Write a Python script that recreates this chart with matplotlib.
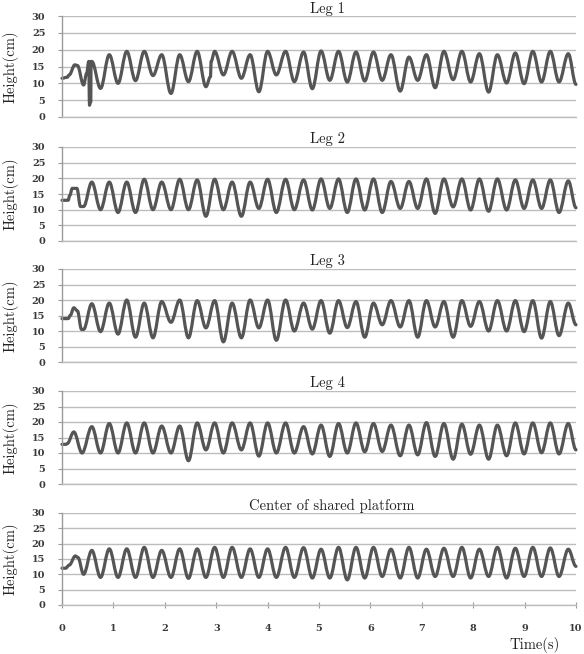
import numpy as np
import matplotlib
matplotlib.use("Agg")
import matplotlib.pyplot as plt
from matplotlib.path import Path
from matplotlib.patches import PathPatch

# ---------------- data ----------------
titles = ["Leg 1", "Leg 2", "Leg 3", "Leg 4", "Center of shared platform"]
y_ticks = [0, 5, 10, 15, 20, 25, 30]
x_ticks = [0, 1, 2, 3, 4, 5, 6, 7, 8, 9, 10]

# times of the oscillation peaks and troughs (s)
peak_t = [0.58, 0.92, 1.26, 1.60, 1.94, 2.29, 2.63, 2.97, 3.31, 3.66, 4.00, 4.35,
          4.70, 5.04, 5.38, 5.72, 6.06, 6.40, 6.75, 7.09, 7.43, 7.78, 8.12, 8.47,
          8.82, 9.16, 9.50, 9.85]
trough_t = [0.75, 1.09, 1.43, 1.77, 2.12, 2.46, 2.80, 3.14, 3.49, 3.83, 4.17, 4.52,
            4.87, 5.21, 5.55, 5.89, 6.23, 6.58, 6.92, 7.26, 7.61, 7.95, 8.30, 8.65,
            8.99, 9.33, 9.67]
end_t = 10.0

# Leg 1
leg1_head_t = [0.00, 0.10, 0.14, 0.25, 0.30, 0.42, 0.48, 0.52, 0.535, 0.55, 0.56, 0.565]
leg1_head_y = [11.5, 11.8, 12.5, 15.5, 15.3, 9.5, 13.0, 16.5, 3.5, 4.5, 4.5, 16.5]
leg1_peaks = [16.5, 18.5, 19.5, 19.5, 18.5, 18.5, 19.5, 19.5, 19.5, 18.5, 19.5, 19.5,
              19.3, 19.6, 19.5, 19.3, 19.3, 18.5, 17.8, 18.5, 19.5, 19.5, 18.8, 18.5,
              19.0, 19.5, 19.5, 18.8]
leg1_troughs = [8.5, 10.0, 10.8, 12.3, 7.0, 10.5, 9.0, 12.5, 11.5, 7.5, 12.5, 10.5,
                8.4, 10.9, 10.4, 10.7, 10.9, 7.7, 10.9, 8.7, 11.1, 10.4, 7.4, 10.1,
                9.9, 10.4, 10.4]
leg1_end = 9.7
leg1_extra_t = [2.89, 2.90]
leg1_extra_y = [12.0, 16.5]

# Leg 2
leg2_head_t = [0.00, 0.12, 0.15, 0.20, 0.29, 0.36, 0.42]
leg2_head_y = [13.0, 13.0, 14.5, 16.8, 16.8, 11.0, 11.0]
leg2_peaks = [18.8, 18.8, 18.8, 19.7, 18.8, 19.7, 19.5, 19.7, 18.8, 18.8, 19.7, 19.7,
              19.5, 19.8, 19.8, 19.8, 19.8, 19.0, 19.0, 19.8, 19.8, 19.8, 19.8, 19.8,
              19.5, 19.5, 19.5, 19.2]
leg2_troughs = [10.0, 9.1, 9.1, 10.0, 10.0, 10.0, 7.9, 10.0, 7.9, 10.4, 9.1, 10.0,
                9.9, 10.4, 9.1, 9.9, 9.1, 10.4, 10.4, 8.8, 10.9, 9.9, 9.5, 9.9,
                10.4, 10.4, 9.1]
leg2_end = 10.6

# Leg 3
leg3_head_t = [0.00, 0.12, 0.16, 0.23, 0.30, 0.38, 0.42]
leg3_head_y = [14.0, 14.0, 15.0, 17.5, 16.5, 10.5, 10.5]
leg3_peaks = [18.8, 19.0, 20.0, 19.0, 19.5, 20.0, 19.8, 19.8, 19.0, 20.0, 20.0, 20.0,
              19.0, 19.8, 19.8, 19.5, 19.0, 19.8, 19.8, 19.8, 19.5, 19.8, 19.5, 19.8,
              19.8, 19.8, 19.5, 19.0]
leg3_troughs = [9.8, 9.0, 8.0, 7.8, 12.8, 7.8, 11.0, 6.5, 7.8, 11.0, 7.0, 10.0,
                10.6, 9.3, 11.1, 8.0, 12.0, 11.3, 8.0, 11.3, 8.0, 11.5, 10.0, 10.0,
                9.8, 7.7, 8.5]
leg3_end = 12.0

# Leg 4
leg4_head_t = [0.00, 0.08, 0.10, 0.23, 0.39]
leg4_head_y = [12.8, 12.8, 13.0, 16.8, 10.0]
leg4_peaks = [18.5, 19.5, 19.7, 19.7, 18.7, 18.7, 19.7, 19.7, 19.7, 19.7, 19.7, 19.7,
              18.5, 19.0, 19.5, 19.7, 19.5, 19.0, 19.0, 19.8, 19.5, 19.3, 19.0, 19.0,
              19.7, 19.7, 19.7, 19.5]
leg4_troughs = [10.0, 10.0, 10.0, 10.0, 10.0, 7.5, 11.0, 10.0, 11.0, 9.0, 10.0, 10.0,
                9.7, 8.9, 10.0, 10.4, 10.5, 9.1, 9.4, 8.9, 8.0, 9.6, 8.0, 9.1,
                9.7, 10.1, 9.7]
leg4_end = 11.0

# Center of shared platform
ctr_head_t = [0.00, 0.07, 0.14, 0.26, 0.31, 0.42]
ctr_head_y = [12.0, 12.0, 13.0, 16.0, 15.5, 10.0]
ctr_peaks = [17.8, 18.3, 18.3, 18.8, 17.8, 18.3, 18.3, 18.8, 18.8, 18.3, 18.3, 18.8,
             18.7, 18.2, 18.8, 18.8, 18.8, 18.2, 18.8, 18.2, 18.5, 18.8, 18.2, 18.8,
             18.5, 18.8, 18.6, 18.2]
ctr_troughs = [9.0, 9.0, 9.0, 9.0, 9.0, 8.7, 9.0, 9.0, 9.0, 9.0, 9.0, 9.0,
               8.8, 8.8, 8.2, 8.8, 9.3, 8.8, 8.8, 9.3, 9.3, 8.8, 9.3, 8.8,
               9.3, 9.3, 9.3]
ctr_end = 12.6


def build(head_t, head_y, peaks, troughs, end_y, extra_t=(), extra_y=()):
    t = list(head_t) + list(peak_t) + list(trough_t) + [end_t] + list(extra_t)
    y = list(head_y) + list(peaks) + list(troughs) + [end_y] + list(extra_y)
    order = np.argsort(t, kind="stable")
    return np.asarray(t)[order], np.asarray(y)[order]


def smooth_path(t, y):
    # cubic Bezier segments between the read points, flat tangents at each point
    verts = [(t[0], y[0])]
    codes = [Path.MOVETO]
    for i in range(1, len(t)):
        d = (t[i] - t[i - 1]) * 0.36
        verts += [(t[i - 1] + d, y[i - 1]), (t[i] - d, y[i]), (t[i], y[i])]
        codes += [Path.CURVE4] * 3
    return Path(verts, codes)


series = [
    build(leg1_head_t, leg1_head_y, leg1_peaks, leg1_troughs, leg1_end, leg1_extra_t, leg1_extra_y),
    build(leg2_head_t, leg2_head_y, leg2_peaks, leg2_troughs, leg2_end),
    build(leg3_head_t, leg3_head_y, leg3_peaks, leg3_troughs, leg3_end),
    build(leg4_head_t, leg4_head_y, leg4_peaks, leg4_troughs, leg4_end),
    build(ctr_head_t, ctr_head_y, ctr_peaks, ctr_troughs, ctr_end),
]

# ---------------- layout ----------------
W, H = 584, 654
fig = plt.figure(figsize=(W / 100, H / 100), dpi=100)
fig.patch.set_facecolor("white")

panel_px = [(16, 117), (147, 241), (269, 362), (391, 484), (513, 605)]
left_px, right_px = 62, 576
title_x = [0.517, 0.517, 0.517, 0.517, 0.525]

line_col = "#555555"
grid_col = "#bdbdbd"
axis_col = "#9a9a9a"
tick_font = "DejaVu Serif"
text_font = ["cmr10", "DejaVu Serif"]

for i, ((top, bot), (t, y)) in enumerate(zip(panel_px, series)):
    ax = fig.add_axes([left_px / W, 1 - bot / H, (right_px - left_px) / W, (bot - top) / H])
    ax.set_xlim(0, 10)
    ax.set_ylim(0, 30)
    ax.set_yticks(y_ticks)
    ax.set_xticks(x_ticks)
    ax.grid(axis="y", color=grid_col, linewidth=1.0)
    ax.set_axisbelow(True)
    for s in ("top", "right"):
        ax.spines[s].set_visible(False)
    ax.spines["left"].set_color(axis_col)
    ax.spines["bottom"].set_color(grid_col)
    ax.spines["left"].set_linewidth(1.0)
    ax.spines["bottom"].set_linewidth(1.0)
    ax.tick_params(axis="y", direction="out", length=3, width=0.8, color=axis_col,
                   labelsize=7, pad=9)
    for lab in ax.get_yticklabels():
        lab.set_fontfamily(tick_font)
        lab.set_fontweight("bold")
        lab.set_color("#3a3a3a")
    if i < 4:
        ax.tick_params(axis="x", length=0, labelbottom=False)
    else:
        ax.tick_params(axis="x", direction="inout", length=5, width=0.8, color=axis_col,
                       labelsize=7, pad=11)
        for lab in ax.get_xticklabels():
            lab.set_fontfamily(tick_font)
            lab.set_fontweight("bold")
            lab.set_color("#3a3a3a")
        ax.text(0.92, -0.44, "Time(s)", transform=ax.transAxes, ha="center", va="center",
                fontsize=10.5, family=text_font, color="#222222")

    ax.add_patch(PathPatch(smooth_path(t, y), facecolor="none", edgecolor=line_col,
                           linewidth=2.3, joinstyle="round", capstyle="round",
                           transform=ax.transData, clip_on=False))

    ax.text(title_x[i], 1.0 + 7.5 / (bot - top), titles[i], transform=ax.transAxes,
            ha="center", va="center", fontsize=10.5, family=text_font, color="#222222")
    ax.set_ylabel("Height(cm)", fontsize=10.5, family=text_font, color="#222222")
    ax.yaxis.set_label_coords(-(62 - 19) / (right_px - left_px), 0.5)

fig.savefig("out.png", dpi=100, facecolor="white")
